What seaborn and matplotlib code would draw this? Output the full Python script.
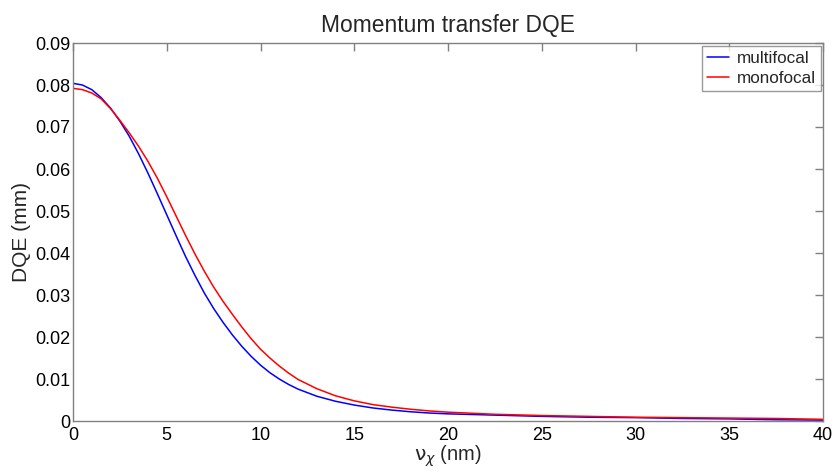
import matplotlib
matplotlib.use("Agg")
import matplotlib.pyplot as plt
import pandas as pd
import numpy as np
import seaborn as sns

# Values
nu = [0, 0.5, 1, 1.5, 2, 2.5, 3, 3.5, 4, 4.5, 5, 5.5, 6, 6.5, 7, 7.5, 8, 8.5, 9, 9.5,
      10, 10.5, 11, 11.5, 12, 13, 14, 15, 16, 17, 18, 19, 20,
      22.5, 25, 27.5, 30, 32.5, 35, 37.5, 40]

multifocal = [0.0804, 0.0800, 0.0789, 0.0770, 0.0745, 0.0714, 0.0678, 0.0636, 0.0590, 0.0541,
              0.0491, 0.0441, 0.0392, 0.0347, 0.0305, 0.0268, 0.0235, 0.0205, 0.0178, 0.0154,
              0.0133, 0.0115, 0.0100, 0.0087, 0.0076, 0.0059, 0.0047, 0.0038, 0.0031, 0.0026,
              0.0022, 0.0019, 0.0017,
              0.0014, 0.0011, 0.0009, 0.0008, 0.0006, 0.0005, 0.0003, 0.0002]

monofocal = [0.0792, 0.0789, 0.0781, 0.0767, 0.0744, 0.0716, 0.0686, 0.0654, 0.0618, 0.0578,
             0.0534, 0.0488, 0.0442, 0.0398, 0.0357, 0.0319, 0.0285, 0.0254, 0.0224, 0.0196,
             0.0171, 0.0150, 0.0131, 0.0114, 0.0099, 0.0077, 0.0060, 0.0048, 0.0039, 0.0033,
             0.0028, 0.0024, 0.0021,
             0.0016, 0.0013, 0.0011, 0.0009, 0.0008, 0.0007, 0.0006, 0.0004]

series_names = ["multifocal", "monofocal"]
series_colors = ["#0000ff", "#ff0000"]

df = pd.DataFrame({"nu": nu, "multifocal": multifocal, "monofocal": monofocal})
df_long = df.melt(id_vars="nu", value_vars=series_names, var_name="series", value_name="dqe")

sns.set_style("white")
plt.rcParams["font.family"] = ["Liberation Sans", "DejaVu Sans"]
plt.rcParams["mathtext.fontset"] = "dejavusans"

GRAY = "#808080"

fig = plt.figure(figsize=(8.36, 4.73), dpi=100)
ax = fig.add_axes([73 / 836, 1 - 421 / 473, 750 / 836, 378 / 473])

sns.lineplot(data=df_long, x="nu", y="dqe", hue="series", hue_order=series_names,
             palette=series_colors, linewidth=1.1, ax=ax)

ax.set_xlim(0, 40)
ax.set_ylim(0, 0.09)
ax.set_xticks(np.arange(0, 41, 5))
ax.set_yticks(np.arange(0, 0.091, 0.01))
ax.set_yticklabels(["0"] + [f"{v:.2f}" for v in np.arange(0.01, 0.091, 0.01)])

for side in ["top", "right", "bottom", "left"]:
    ax.spines[side].set_visible(True)
    ax.spines[side].set_color(GRAY)
    ax.spines[side].set_linewidth(1.0)

ax.tick_params(axis="both", direction="in", top=True, right=True, length=6,
               width=1.0, color=GRAY, labelcolor="black", labelsize=13)
ax.tick_params(axis="y", pad=2)
ax.tick_params(axis="x", pad=4)

ax.set_title("Momentum transfer DQE", fontsize=16.4, pad=8)
ax.set_xlabel(r"$\mathrm{\nu}_{\chi}$ (nm)", fontsize=14.5, labelpad=0)
ax.set_ylabel("DQE (mm)", fontsize=15, labelpad=3)

leg = ax.legend(loc="upper right", bbox_to_anchor=(1 - 2 / 750, 1 - 3 / 378),
                borderaxespad=0, fontsize=12.3, frameon=True, fancybox=False,
                handlelength=1.3, handletextpad=0.45, labelspacing=0.3,
                borderpad=0.3)
leg.get_frame().set_edgecolor(GRAY)
leg.get_frame().set_linewidth(1.0)

fig.savefig("out.png", dpi=100)
